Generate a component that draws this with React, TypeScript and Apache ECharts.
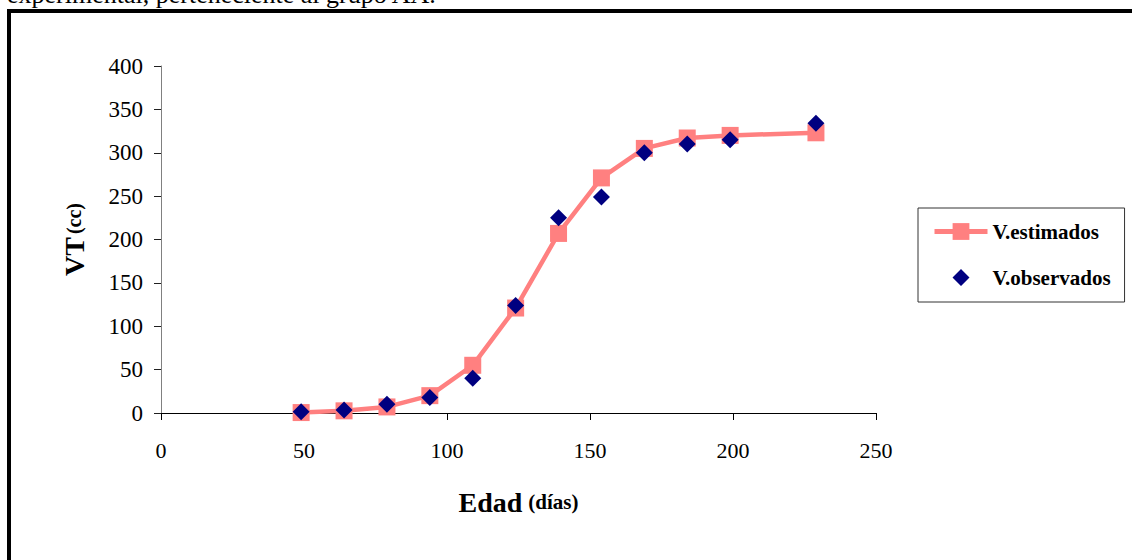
import React, { useEffect, useRef } from "react";
import * as echarts from "echarts";

const ages = [49, 64, 79, 94, 109, 124, 139, 154, 169, 184, 199, 229];
const estimated = [0.5, 2.5, 7, 20, 55, 121, 207, 271, 305, 317, 320, 323];
const observed = [1.5, 3.5, 10, 18, 40, 124, 225, 249, 300, 310, 315, 334];
const seriesNames = ["V.estimados", "V.observados"];
const topCaption = "experimental, perteneciente al grupo AA.";

const SERIF = '"Times New Roman", "Liberation Serif", serif';
const DIAMOND_ICON =
  "path://M0,0 L0,0.01 Z M21,21 L21,20.99 Z M10.5,2 L19,10.5 L10.5,19 L2,10.5 Z";

export default function App() {
  const ref = useRef<HTMLDivElement>(null);
  useEffect(() => {
    if (!ref.current) return;
    const chart = echarts.init(ref.current, null, { renderer: "svg" });
    chart.setOption({
      animation: false,
      backgroundColor: "#ffffff",
      textStyle: { fontFamily: SERIF },
      grid: { left: 161, right: 256, top: 66, bottom: 147, containLabel: false },
      xAxis: {
        type: "value",
        min: 0,
        max: 250,
        interval: 50,
        name: "{a|Edad}  {b|(días)}",
        nameLocation: "middle",
        nameGap: 75,
        nameTextStyle: {
          rich: {
            a: { fontFamily: SERIF, fontSize: 28, fontWeight: "bold", color: "#000" },
            b: { fontFamily: SERIF, fontSize: 21, fontWeight: "bold", color: "#000" },
          },
        },
        axisLine: { show: true, onZero: false, lineStyle: { color: "#000", width: 1 } },
        axisTick: { show: true, inside: false, length: 7, lineStyle: { color: "#000" } },
        axisLabel: { fontFamily: SERIF, fontSize: 22, color: "#000", margin: 26 },
        splitLine: { show: false },
      },
      yAxis: {
        type: "value",
        min: 0,
        max: 400,
        interval: 50,
        name: "{a|VT} {b|(cc)}",
        nameLocation: "middle",
        nameGap: 73,
        nameTextStyle: {
          rich: {
            a: { fontFamily: SERIF, fontSize: 28, fontWeight: "bold", color: "#000" },
            b: { fontFamily: SERIF, fontSize: 20, fontWeight: "bold", color: "#000" },
          },
        },
        axisLine: { show: true, lineStyle: { color: "#808080", width: 1 } },
        axisTick: { show: true, inside: false, length: 7, lineStyle: { color: "#202020" } },
        axisLabel: { fontFamily: SERIF, fontSize: 23, color: "#000", margin: 18 },
        splitLine: { show: false },
      },
      legend: {
        orient: "vertical",
        left: 918,
        top: 208,
        padding: [13, 14, 14, 14],
        itemGap: 25,
        itemWidth: 53,
        itemHeight: 21,
        borderColor: "#333",
        borderWidth: 1,
        backgroundColor: "#fff",
        lineStyle: { width: 5 },
        textStyle: { fontFamily: SERIF, fontSize: 21, fontWeight: "bold", color: "#000" },
        data: [
          { name: seriesNames[0] },
          { name: seriesNames[1], icon: DIAMOND_ICON },
        ],
      },
      graphic: [
        {
          type: "text",
          left: 7,
          top: -19,
          style: { text: topCaption, font: "26px " + SERIF, fill: "#000" },
        },
        {
          type: "rect",
          shape: { x: 9, y: 11, width: 1200, height: 700 },
          style: { fill: "none", stroke: "#000", lineWidth: 4 },
          silent: true,
        },
      ],
      series: [
        {
          name: seriesNames[0],
          type: "line",
          data: ages.map((a, i) => [a, estimated[i]]),
          symbol: "rect",
          symbolSize: 17,
          showAllSymbol: true,
          itemStyle: { color: "#FF8080", opacity: 1 },
          lineStyle: { color: "#FF8080", width: 4.5 },
          z: 2,
        },
        {
          name: seriesNames[1],
          type: "scatter",
          data: ages.map((a, i) => [a, observed[i]]),
          symbol: "diamond",
          symbolSize: 17,
          itemStyle: { color: "#000080", opacity: 1 },
          z: 3,
        },
      ],
    });
    return () => chart.dispose();
  }, []);
  return (
    <div
      ref={ref}
      style={{ position: "absolute", left: 0, top: 0, width: 1132, height: 560 }}
    />
  );
}
